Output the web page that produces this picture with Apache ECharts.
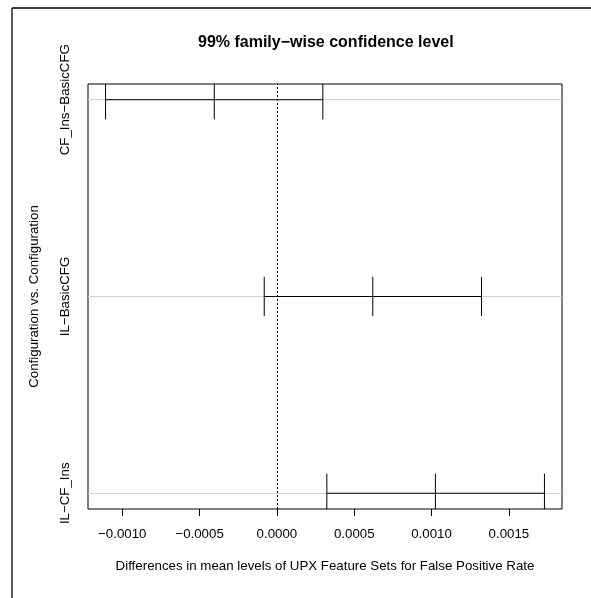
<!DOCTYPE html>
<html>
<head>
<meta charset="utf-8">
<script src="https://cdn.jsdelivr.net/npm/echarts@6/dist/echarts.min.js"></script>
<style>
  html, body { margin: 0; padding: 0; background: #fff; }
  #chart { width: 591px; height: 598px; }
</style>
</head>
<body>
<div id="chart"></div>
<script>
// Tukey HSD pairwise comparisons (99% family-wise intervals)
const comparisons = ['CF_Ins\u2212BasicCFG', 'IL\u2212BasicCFG', 'IL\u2212CF_Ins'];
const diffValues  = [-0.000405, 0.000620, 0.001025];
const lowerValues = [-0.001108, -0.000082, 0.000323];
const upperValues = [0.000297, 0.001323, 0.001730];
const xTicks = [-0.0010, -0.0005, 0.0000, 0.0005, 0.0010, 0.0015];

const FONT = "'Liberation Sans', Arial, Helvetica, sans-serif";
const n = comparisons.length;
// first comparison sits at the top
const levelOf = i => n - i;
const yTicks = comparisons.map((_, i) => levelOf(i));

// axis ranges padded by 4% like base graphics
const lo = Math.min(...lowerValues), hi = Math.max(...upperValues);
const xPad = 0.04 * (hi - lo);
const yPad = 0.04 * (n - 1);

const ciData = comparisons.map((c, i) => [levelOf(i), lowerValues[i], diffValues[i], upperValues[i]]);

const fmt = v => (v < 0 ? '\u2212' : '') + Math.abs(v).toFixed(4);

const chart = echarts.init(document.getElementById('chart'), null, { renderer: 'canvas' });
chart.setOption({
  animation: false,
  backgroundColor: '#fff',
  textStyle: { fontFamily: FONT },
  title: {
    text: '99% family\u2212wise confidence level',
    left: 198, top: 35,
    padding: 0,
    textStyle: { fontFamily: FONT, fontSize: 16, fontWeight: 'bold', color: '#000' }
  },
  grid: {
    left: 88, right: 29, top: 84, bottom: 89,
    show: true, borderColor: '#000', borderWidth: 1, backgroundColor: 'transparent'
  },
  xAxis: {
    type: 'value',
    min: lo - xPad, max: hi + xPad,
    name: 'Differences in mean levels of UPX Feature Sets for False Positive Rate',
    nameLocation: 'middle', nameGap: 51,
    nameTextStyle: { fontFamily: FONT, fontSize: 13.3, color: '#000' },
    axisLine: { show: false },
    axisTick: { show: true, length: 7, customValues: xTicks, lineStyle: { color: '#000' } },
    axisLabel: { customValues: xTicks, formatter: fmt, margin: 19, fontFamily: FONT, fontSize: 13.3, color: '#000' },
    splitLine: { show: false }
  },
  yAxis: {
    type: 'value',
    min: 1 - yPad, max: n + yPad,
    name: 'Configuration vs. Configuration',
    nameLocation: 'middle', nameGap: 47, nameRotate: 90,
    nameTextStyle: { fontFamily: FONT, fontSize: 13.3, color: '#000' },
    axisLine: { show: false },
    axisTick: { show: true, length: 7, customValues: yTicks, lineStyle: { color: '#000' } },
    axisLabel: {
      customValues: yTicks, rotate: 90, margin: 16,
      formatter: v => comparisons[n - Math.round(v)],
      fontFamily: FONT, fontSize: 13.3, color: '#000'
    },
    splitLine: { show: false }
  },
  graphic: [
    { type: 'line', shape: { x1: 12, y1: 8, x2: 12, y2: 598 }, style: { stroke: '#000', lineWidth: 1.3 } },
    { type: 'line', shape: { x1: 12, y1: 8, x2: 591, y2: 8 }, style: { stroke: '#000', lineWidth: 1.3 } }
  ],
  series: [
    {
      // reference lines: one per comparison, plus the zero line
      type: 'line', data: [], silent: true, z: 1,
      markLine: {
        silent: true, symbol: 'none', animation: false, z: 1,
        label: { show: false },
        data: [
          ...yTicks.map(y => ({ yAxis: y, lineStyle: { color: '#d3d3d3', width: 1, type: 'solid' } })),
          { xAxis: 0, lineStyle: { color: '#000', width: 1, type: [2, 2] } }
        ]
      }
    },
    {
      type: 'custom', z: 10, clip: true, silent: true,
      data: ciData,
      encode: { x: [1, 2, 3], y: 0 },
      renderItem: (params, api) => {
        const y = api.value(0);
        const half = 0.1;
        const pts = [api.value(1), api.value(2), api.value(3)];
        const style = { stroke: '#000', lineWidth: 1 };
        const a = api.coord([pts[0], y]);
        const b = api.coord([pts[2], y]);
        const children = [{ type: 'line', shape: { x1: a[0], y1: a[1], x2: b[0], y2: b[1] }, style }];
        pts.forEach(x => {
          const p = api.coord([x, y - half]);
          const q = api.coord([x, y + half]);
          children.push({ type: 'line', shape: { x1: p[0], y1: p[1], x2: q[0], y2: q[1] }, style });
        });
        return { type: 'group', children };
      }
    }
  ]
});
</script>
</body>
</html>
